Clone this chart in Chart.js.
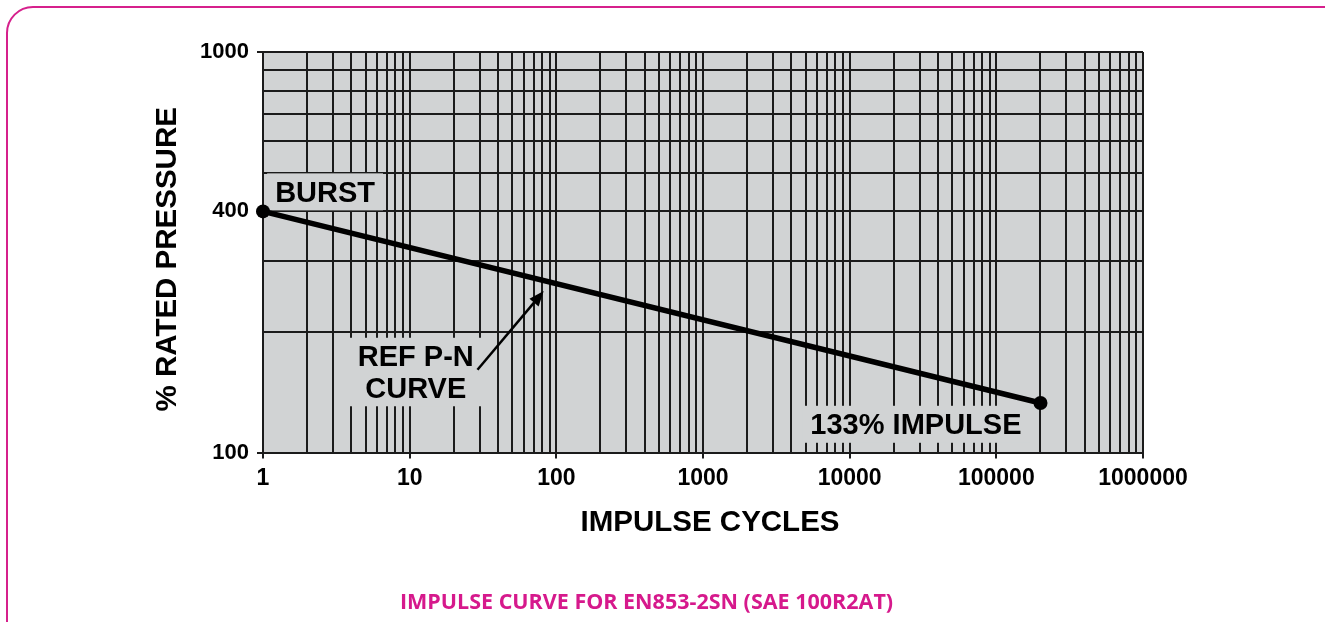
<!DOCTYPE html>
<html>
<head>
<meta charset="utf-8">
<title>Impulse curve EN853-2SN</title>
<script src="https://cdn.jsdelivr.net/npm/chart.js@4.4.1/dist/chart.umd.min.js"></script>
<style>
  html, body { margin: 0; padding: 0; background: #fff; overflow: hidden; }
  .frame {
    position: absolute; left: 6px; top: 6px; width: 1400px; height: 700px;
    border: 2px solid #d6208c; border-radius: 27px; box-sizing: border-box;
  }
  .wrap { position: absolute; left: 0; top: 0; width: 1325px; height: 622px; }
</style>
</head>
<body>
<div class="frame"></div>
<div class="wrap"><canvas id="impulseChart" width="1325" height="622"></canvas></div>
<script>
// P-N curve end points
const cycles = [1, 200000];
const ratedPressure = [400, 133];

// axis labels
const xTickLabels = ['1', '10', '100', '1000', '10000', '100000', '1000000'];
const yTickLabels = ['100', '400', '1000'];
const yGridValues = [100, 200, 300, 400, 500, 600, 700, 800, 900, 1000];
const xTitle = 'IMPULSE CYCLES';
const yTitle = '% RATED PRESSURE';

// callouts inside the plot (centre in data units)
const noteLines = [['BURST'], ['REF P-N', 'CURVE'], ['133% IMPULSE']];
const noteX = [2.65, 11, 28300];
const noteY = [445, 158, 117];
const arrowFrom = [29, 161];
const arrowTo = [82, 253];

const INK = '#1b1b1b';
const FONT = "'Liberation Sans', Arial, sans-serif";

// 1..9 in every decade, plus the last decade line
const xGridValues = [];
xTickLabels.forEach((t, i) => {
    const d = Number(t);
    if (i === xTickLabels.length - 1) { xGridValues.push(d); return; }
    for (let m = 1; m < 10; m++) xGridValues.push(m * d);
});

const plotBackground = {
    id: 'plotBackground',
    beforeDraw(chart) {
        const { ctx, chartArea: a } = chart;
        ctx.save();
        ctx.fillStyle = '#d1d3d4';
        ctx.fillRect(a.left, a.top, a.width, a.height);
        ctx.restore();
    }
};

// axis titles, placed by hand a little off the scale centres
const axisTitles = {
    id: 'axisTitles',
    afterDraw(chart) {
        const { ctx, chartArea: a } = chart;
        ctx.save();
        ctx.fillStyle = '#000';
        ctx.font = 'bold 29.5px ' + FONT;
        ctx.textAlign = 'center';
        ctx.textBaseline = 'middle';
        ctx.fillText(xTitle, (a.left + a.right) / 2 + 7, a.bottom + 70);
        ctx.translate(168, (a.top + a.bottom) / 2 + 7);
        ctx.rotate(-Math.PI / 2);
        ctx.fillText(yTitle, 0, 0);
        ctx.restore();
    }
};

function noteBoxes(chart) {
    const { ctx, scales } = chart;
    ctx.save();
    ctx.font = 'bold 29px ' + FONT;
    const out = noteLines.map((lines, i) => {
        const cx = scales.x.getPixelForValue(noteX[i]);
        const cy = scales.y.getPixelForValue(noteY[i]);
        const w = Math.max(...lines.map(l => ctx.measureText(l).width));
        const gap = 31.5;
        const h = (lines.length - 1) * gap + 21;
        return { lines, cx, cy, w, h, gap };
    });
    ctx.restore();
    return out;
}

const callouts = {
    id: 'callouts',
    beforeDatasetsDraw(chart) {
        const { ctx } = chart;
        ctx.save();
        ctx.fillStyle = '#d1d3d4';
        noteBoxes(chart).forEach(b => {
            ctx.fillRect(b.cx - b.w / 2 - 8, b.cy - b.h / 2 - 9, b.w + 16, b.h + 16);
        });
        ctx.restore();
    },
    afterDatasetsDraw(chart) {
        const { ctx, scales } = chart;
        ctx.save();
        ctx.fillStyle = '#000';
        ctx.font = 'bold 29px ' + FONT;
        ctx.textAlign = 'center';
        ctx.textBaseline = 'middle';
        noteBoxes(chart).forEach(b => {
            const y0 = b.cy - (b.lines.length - 1) * b.gap / 2;
            b.lines.forEach((l, k) => ctx.fillText(l, b.cx, y0 + k * b.gap + 1));
        });

        // leader arrow to the curve
        const x1 = scales.x.getPixelForValue(arrowFrom[0]);
        const y1 = scales.y.getPixelForValue(arrowFrom[1]);
        const x2 = scales.x.getPixelForValue(arrowTo[0]);
        const y2 = scales.y.getPixelForValue(arrowTo[1]);
        const ang = Math.atan2(y2 - y1, x2 - x1);
        const len = 15, half = 6;
        ctx.strokeStyle = '#000';
        ctx.lineWidth = 2.5;
        ctx.beginPath();
        ctx.moveTo(x1, y1);
        ctx.lineTo(x2 - Math.cos(ang) * len, y2 - Math.sin(ang) * len);
        ctx.stroke();
        ctx.beginPath();
        ctx.moveTo(x2, y2);
        ctx.lineTo(x2 - Math.cos(ang) * len - Math.sin(ang) * half, y2 - Math.sin(ang) * len + Math.cos(ang) * half);
        ctx.lineTo(x2 - Math.cos(ang) * len + Math.sin(ang) * half, y2 - Math.sin(ang) * len - Math.cos(ang) * half);
        ctx.closePath();
        ctx.fill();
        ctx.restore();
    }
};

const isLabelled = (list, v) => list.includes(String(v));

new Chart(document.getElementById('impulseChart'), {
    type: 'line',
    data: {
        datasets: [{
            data: cycles.map((x, i) => ({ x, y: ratedPressure[i] })),
            borderColor: '#000',
            borderWidth: 5.5,
            pointRadius: 7,
            pointBackgroundColor: '#000',
            pointBorderWidth: 0,
            tension: 0,
            clip: false
        }]
    },
    options: {
        responsive: false,
        animation: false,
        layout: { padding: { left: 150, top: 52, right: 182, bottom: 0 } },
        plugins: {
            legend: { display: false },
            tooltip: { enabled: false },
            title: {
                display: true,
                position: 'bottom',
                text: 'IMPULSE CURVE FOR EN853-2SN (SAE 100R2AT)',
                color: '#d6198c',
                font: { family: "'Open Sans', sans-serif", size: 21.5, weight: 'bold' },
                padding: { top: 55.2, bottom: 6 }
            }
        },
        scales: {
            x: {
                type: 'logarithmic',
                min: 1,
                max: 1000000,
                afterBuildTicks: s => { s.ticks = xGridValues.map(v => ({ value: v })); },
                afterFit: s => { s.height = 82.4; },
                ticks: {
                    autoSkip: false,
                    maxRotation: 0,
                    padding: 6,
                    color: '#000',
                    font: { family: FONT, size: 23, weight: 'bold' },
                    callback: v => isLabelled(xTickLabels, v) ? String(v) : ''
                },
                grid: {
                    color: INK,
                    lineWidth: 2,
                    tickLength: 6,
                    tickWidth: 2,
                    tickColor: c => (c.tick && isLabelled(xTickLabels, c.tick.value)) ? INK : 'rgba(0,0,0,0)'
                },
                border: { color: INK, width: 2 }
            },
            y: {
                type: 'logarithmic',
                min: 100,
                max: 1000,
                afterBuildTicks: s => { s.ticks = yGridValues.map(v => ({ value: v })); },
                afterFit: s => { s.width = 113; },
                ticks: {
                    autoSkip: false,
                    padding: 8,
                    color: '#000',
                    font: { family: FONT, size: 22, weight: 'bold' },
                    callback: v => isLabelled(yTickLabels, v) ? String(v) : ''
                },
                grid: {
                    color: INK,
                    lineWidth: 2,
                    tickLength: 6,
                    tickWidth: 2,
                    tickColor: c => (c.tick && isLabelled(yTickLabels, c.tick.value)) ? INK : 'rgba(0,0,0,0)'
                },
                border: { color: INK, width: 2 }
            }
        }
    },
    plugins: [plotBackground, axisTitles, callouts]
});
</script>
</body>
</html>
